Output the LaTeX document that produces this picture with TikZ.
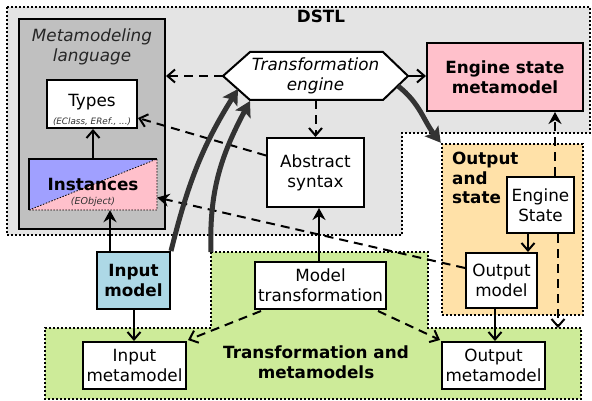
\documentclass[tikz,border=0pt]{standalone}
\usepackage{fontspec}
\setmainfont{DejaVu Sans}
\usetikzlibrary{arrows.meta,calc}
\definecolor{dstlgray}{HTML}{E4E4E4}
\definecolor{mlgray}{HTML}{C0C0C0}
\definecolor{greenbg}{HTML}{CDEB99}
\definecolor{orangebg}{HTML}{FFE1A8}
\definecolor{pinkbg}{HTML}{FFC0CB}
\definecolor{bluebg}{HTML}{A0A0FF}
\definecolor{inblue}{HTML}{ADD8E6}
\definecolor{darkarrow}{HTML}{333333}
\begin{document}
\begin{tikzpicture}[x=1pt,y=-1pt,
  every node/.style={inner sep=0pt, align=center, font=\fontsize{16.8}{20}\selectfont},
  box/.style={draw=black, line width=2pt, fill=white},
  region/.style={line width=2.4pt, dash pattern=on 2pt off 2pt},
  conn/.style={line width=2pt},
  dashconn/.style={line width=2pt, dash pattern=on 9pt off 6pt},
  openhead/.style={-{Straight Barb[length=7.5pt,width=13pt]}},
  solidhead/.style={-{Stealth[length=12pt,width=13pt,inset=4pt]}},
  bigarrow/.style={line width=5pt, draw=darkarrow, -{Stealth[length=15pt,width=17pt,inset=3pt]}},
  smalltxt/.style={font=\fontsize{9}{10}\selectfont\itshape, text=black!80},
]
\useasboundingbox (0,0) rectangle (592,401);

% regions
\draw[region, fill=dstlgray] (7,7) -- (590,7) -- (590,133) -- (402,133) -- (402,235) -- (7,235) -- cycle;
\draw[region, fill=greenbg] (211,252) -- (428,252) -- (428,328) -- (581,328) -- (581,399) -- (45,399) -- (45,328) -- (211,328) -- cycle;
\coordinate (gcorner) at (211,252);
\coordinate (gtop) at (558,328);
\node[region, draw, fill=orangebg, minimum width=141, minimum height=171] (os) at (512.5,229.5) {};
\node[font=\fontsize{16.8}{19.5}\selectfont\bfseries, align=left, anchor=north west] (oslbl) at (452,152) {Output\\and\\state};

\node[font=\fontsize{16.8}{20}\selectfont\bfseries] (dstl) at (321,16) {DSTL};
\node[font=\fontsize{16.8}{19.5}\selectfont\bfseries] (tml) at (316,362) {Transformation and\\metamodels};

% metamodeling language
\node[draw, line width=2pt, fill=mlgray, minimum width=146, minimum height=210] (ml) at (92,124) {};
\node[font=\fontsize{16.8}{20}\selectfont\itshape, text=black!85] (mllbl) at (92,47) {Metamodeling\\language};

\node[box, minimum width=90, minimum height=48] (types) at (92,104) {};
\node (typeslbl) at (92,102) {Types};
\node[smalltxt, font=\fontsize{8.8}{10}\selectfont\itshape] (typessub) at (92,122) {(EClass, ERef., ...)};

% instances
\fill[bluebg] (29,210) -- (29,159) -- (157,159) -- cycle;
\fill[pinkbg] (29,210) -- (157,159) -- (157,210) -- cycle;
\draw[line width=0.8pt, dash pattern=on 1.5pt off 1.5pt] (29,210) -- (157,159) -- (157,210) -- cycle;
\draw[line width=2pt] (29,210) -- (29,159) -- (157,159);
\node[minimum width=128, minimum height=51] (inst) at (93,184.5) {};
\node[font=\fontsize{16.8}{20}\selectfont\bfseries] (instlbl) at (93,184) {Instances};
\node[smalltxt, font=\fontsize{9.5}{10}\selectfont\itshape] (instsub) at (93,202) {(EObject)};

% transformation engine
\draw[line width=2pt, fill=white] (223,76) -- (250,52) -- (383,52) -- (408,76) -- (383,100) -- (250,100) -- cycle;
\node[minimum width=185, minimum height=48, font=\fontsize{16.8}{20}\selectfont\itshape] (te) at (315.5,76) {Transformation\\engine};
\coordinate (teA) at (238,89);
\coordinate (teB) at (250,101);
\coordinate (teC) at (398,86);

\node[box, fill=pinkbg, minimum width=156, minimum height=68, font=\fontsize{16.8}{20}\selectfont\bfseries] (esm) at (505,77) {Engine state\\metamodel};
\node[box, minimum width=97, minimum height=69] (abs) at (315.5,172.5) {Abstract\\syntax};
\node[box, minimum width=67, minimum height=56] (es) at (540.5,205) {Engine\\State};
\node[box, minimum width=71, minimum height=55] (om) at (501.5,280.5) {Output\\model};
\node[box, fill=inblue, minimum width=73, minimum height=57, font=\fontsize{16.8}{20}\selectfont\bfseries] (im) at (133.5,280.5) {Input\\model};
\node[box, minimum width=131, minimum height=47] (mt) at (320.5,285.5) {Model\\transformation};
\node[box, minimum width=103, minimum height=47] (imm) at (134.5,365.5) {Input\\metamodel};
\node[box, minimum width=103, minimum height=47] (omm) at (493.5,365.5) {Output\\metamodel};

\coordinate (vx1) at (555,0);
\coordinate (vx2) at (495,0);
\coordinate (vx3) at (528,0);
\coordinate (vx4) at (110,0);
\coordinate (vx5) at (93,0);
\coordinate (vx6) at (134,0);
\coordinate (vx7) at (319,0);

% connectors
\draw[dashconn, openhead] (te.west) -- (ml.east |- te.west);
\draw[conn, openhead] (te.east) -- (esm.west |- te.east);
\draw[dashconn, openhead] (te.south) -- (abs.north);
\draw[dashconn, openhead] ($(abs.west)+(0,-17)$) -- ($(types.east)+(0,14)$);
\draw[dashconn, solidhead] ($(om.west)+(0,-12.5)$) -- ($(inst.east)+(0,13)$);
\draw[conn, openhead] (inst.north -| vx5) -- (types.south -| vx5);
\draw[conn, solidhead] (im.north -| vx4) -- (inst.south -| vx4);
\draw[conn, openhead] (im.south -| vx6) -- (imm.north -| vx6);
\draw[conn, solidhead] (mt.north -| vx7) -- (abs.south -| vx7);
\draw[dashconn, openhead] ($(mt.south west)+(7,1)$) -- ($(imm.north east)+(1,-1)$);
\draw[dashconn, openhead] ($(mt.south east)+(-9,1)$) -- ($(omm.north west)+(-1,-1)$);
\draw[conn, openhead] (om.south -| vx2) -- (omm.north -| vx2);
\draw[conn, openhead] (es.south -| vx3) -- (om.north -| vx3);
\draw[dashconn, solidhead] (es.north -| vx1) -- (esm.south -| vx1);
\draw[dashconn, openhead] (es.south -| gtop) -- (gtop);

% thick curved arrows
\draw[bigarrow] (im.north east) to[out=76, in=-122] (teA);
\draw[bigarrow] (gcorner) to[out=92, in=-118] (teB);
\draw[bigarrow] (teC) to[out=-38, in=128] (os.north west);
\end{tikzpicture}
\end{document}
